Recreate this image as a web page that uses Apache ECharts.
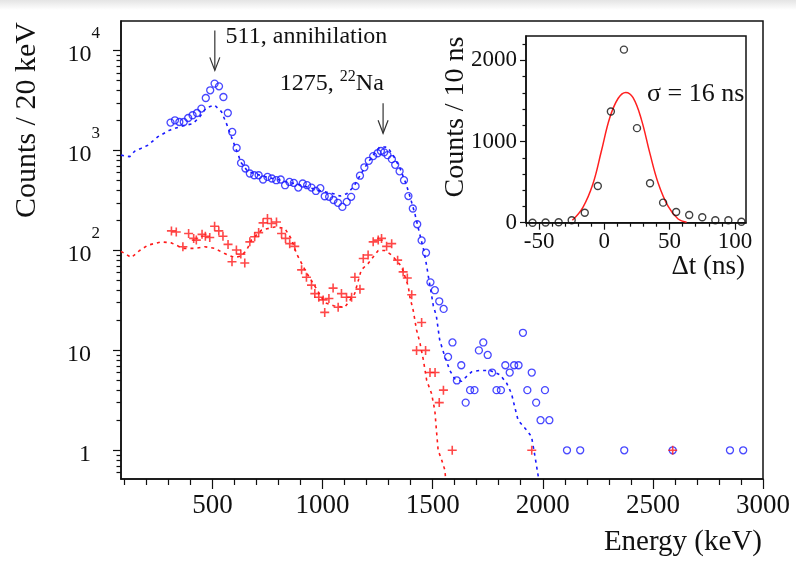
<!DOCTYPE html>
<html><head><meta charset="utf-8">
<script src="https://cdn.jsdelivr.net/npm/echarts@6/dist/echarts.min.js"></script>
<style>html,body{margin:0;padding:0;background:#fff}#c{width:796px;height:562px}</style>
</head><body><div id="c"></div>
<script>
// ---------- DATA ----------
const blueCircles = [[310,1905],[330,2009],[350,1932],[370,1932],[390,2118],[410,2255],[430,2377],[450,2630],[470,3357],[490,4009],[510,4677],[530,4395],[550,3436],[570,2377],[590,1535],[610,1062],[630,752],[650,661],[670,589],[690,566],[710,566],[730,513],[750,545],[770,525],[790,505],[810,513],[830,450],[850,485],[870,474],[890,426],[910,468],[930,450],[950,426],[970,394],[990,420],[1010,349],[1030,344],[1050,320],[1070,300],[1090,273],[1110,306],[1130,344],[1150,440],[1170,560],[1190,680],[1210,790],[1230,880],[1250,940],[1265,990],[1280,960],[1295,900],[1315,820],[1330,720],[1350,620],[1370,505],[1390,350],[1410,263],[1430,183],[1450,126],[1470,95],[1490,48],[1510,40],[1530,31],[1550,26],[1570,8.6],[1590,12],[1610,5.0],[1630,7.1],[1650,3.0],[1670,4.0],[1690,4.0],[1710,10],[1730,12],[1750,9],[1770,6],[1790,4],[1810,4],[1830,7.1],[1850,6],[1870,7.1],[1890,7.1],[1910,15],[1930,4],[1950,6],[1970,3],[1990,2],[2010,4],[2030,2],[2110,1],[2170,1],[2370,1],[2590,1],[2850,1],[2910,1]];
const redPlus = [[314,157],[336,153],[366,109],[392,148],[415,132],[427,127],[453,145],[468,139],[488,135],[510,175],[529,157],[548,139],[571,115],[589,77],[609,101],[629,92],[647,75],[670,122],[692,137],[710,151],[730,189],[750,209],[768,186],[791,193],[814,148],[832,132],[851,117],[874,110],[905,64],[927,54],[950,45],[965,37],[983,34],[1003,32],[1010,24],[1029,33],[1048,42],[1071,27],[1086,37],[1109,34],[1132,34],[1147,54],[1170,41],[1185,83],[1207,90],[1230,122],[1253,127],[1268,132],[1291,110],[1314,117],[1341,80],[1366,61],[1385,53],[1405,36],[1427,10],[1450,19],[1468,10],[1488,6],[1511,6],[1530,3],[1549,4],[1589,1],[1950,1],[2590,1]];
const blueModel = [[85,900],[105,880],[125,870],[147,985],[175,1050],[207,1130],[253,1377],[306,1600],[359,1750],[412,1860],[442,2170],[473,2690],[510,2850],[541,2450],[564,1860],[590,1300],[610,1000],[630,760],[660,620],[700,580],[750,540],[800,510],[850,480],[900,450],[950,420],[1000,390],[1050,370],[1080,350],[1110,370],[1140,430],[1170,560],[1200,720],[1230,900],[1260,1090],[1295,1080],[1320,900],[1350,680],[1380,460],[1400,330],[1420,230],[1440,150],[1460,100],[1473,70],[1480,56],[1495,36],[1503,28],[1517,22],[1532,12.7],[1555,8.7],[1578,6.3],[1600,5.2],[1631,4.9],[1677,6.1],[1715,6.3],[1760,6.3],[1806,5.7],[1836,4.7],[1858,3.7],[1873,2.7],[1888,2.0],[1926,1.6],[1949,1.37],[1965,0.86],[1980,0.54]];
const redModel = [[85,98],[132,85],[170,100],[207,113],[268,122],[314,119],[366,105],[420,105],[465,109],[510,105],[556,93],[600,85],[630,88],[655,100],[677,127],[723,160],[783,172],[829,166],[859,130],[882,93],[927,60],[965,44],[1010,30],[1050,28],[1101,27],[1146,37],[1176,64],[1207,74],[1253,100],[1283,100],[1314,90],[1359,69],[1389,44],[1397,34],[1412,25],[1427,16],[1442,12],[1458,8],[1473,5],[1495,3.7],[1510,2.5],[1517,1.6],[1525,1.0],[1541,0.8],[1555,0.64],[1560,0.5]];
const insetPoints = [[-55,0],[-45,3],[-35,5],[-25,30],[-15,123],[-5,453],[5,1370],[15,2132],[25,1165],[35,486],[45,247],[55,132],[65,95],[75,67],[85,30],[95,30],[105,12]];
const insetFit = [[-24.5,30],[-16.4,190],[-8.7,480],[-2.3,880],[4.1,1290],[10.5,1530],[16.4,1605],[22,1540],[28.4,1270],[34.8,860],[41.2,490],[48.9,200],[56.5,45],[63,5]];
// tick / label values
const xMajor = [500,1000,1500,2000,2500,3000];
const xMinor = [100,200,300,400,600,700,800,900,1100,1200,1300,1400,1600,1700,1800,1900,2100,2200,2300,2400,2600,2700,2800,2900];
const yMajor = [1,10,100,1000,10000];
const yMinor = [0.6,0.7,0.8,0.9,2,3,4,5,6,7,8,9,20,30,40,50,60,70,80,90,200,300,400,500,600,700,800,900,2000,3000,4000,5000,6000,7000,8000,9000];
const insetXMajor = [-50,0,50,100];
const insetXMinor = [-60,-40,-30,-20,-10,10,20,30,40,60,70,80,90];
const insetYMajor = [0,1000,2000];
const insetYMinor = [200,400,600,800,1200,1400,1600,1800,2200];
// annotations (data coordinates)
const arrows = [{e:511, from:15950, to:6350}, {e:1275, from:2972, to:1489}];
const notes = [{e:560, v:13900, parts:[['n','511, annihilation']]}, {e:806, v:4656, parts:[['n','1275, '],['s','22'],['n','Na']]}];

// ---------- CHART ----------
const FONT = "'Liberation Serif','DejaVu Serif',serif";
const INK = '#111';
const chart = echarts.init(document.getElementById('c'), null, {renderer:'canvas'});
const lineSty = {color: INK, width: 1.5};
const plain = v => String(Math.round(v));
function minorAxis(base, vals, len){
  return Object.assign({}, base, {
    axisLine:{show:false, onZero:false}, axisLabel:{show:false}, splitLine:{show:false},
    axisTick:{show:true, customValues: vals, length: len, inside:false, lineStyle:{color:INK, width:1.2}}
  });
}
const xMainBase = {type:'value', gridIndex:0, min:85, max:3000, position:'bottom'};
const yMainBase = {type:'log', logBase:10, gridIndex:0, min:0.516, max:19800, position:'left'};
const xInBase = {type:'value', gridIndex:1, min:-60, max:108.5, position:'bottom'};
const yInBase = {type:'value', gridIndex:1, min:0, max:2300, position:'left'};

const option = {
  animation:false,
  backgroundColor:'#fff',
  grid:[
    {left:121, top:21, width:642, height:458, show:true, borderColor:INK, borderWidth:1.5, backgroundColor:'transparent', containLabel:false},
    {left:526, top:36, width:220, height:186.7, show:true, borderColor:INK, borderWidth:1.5, backgroundColor:'transparent', containLabel:false}
  ],
  xAxis:[
    Object.assign({}, xMainBase, {
      axisLine:{show:true, onZero:false, lineStyle:lineSty}, splitLine:{show:false},
      axisTick:{show:true, customValues:xMajor, length:10, lineStyle:{color:INK, width:1.2}},
      axisLabel:{customValues:xMajor, formatter:plain, fontSize:27, fontFamily:FONT, color:INK, margin:13}
    }),
    minorAxis(xMainBase, xMinor, 6),
    Object.assign({}, xInBase, {
      axisLine:{show:true, onZero:false, lineStyle:lineSty}, splitLine:{show:false},
      axisTick:{show:true, customValues:insetXMajor, length:7, lineStyle:{color:INK, width:1.2}},
      axisLabel:{customValues:insetXMajor, formatter:plain, fontSize:23, fontFamily:FONT, color:INK, margin:8}
    }),
    minorAxis(xInBase, insetXMinor, 4)
  ],
  yAxis:[
    Object.assign({}, yMainBase, {
      axisLine:{show:true, onZero:false, lineStyle:lineSty}, splitLine:{show:false},
      axisTick:{show:true, customValues:yMajor, length:8, lineStyle:{color:INK, width:1.2}},
      axisLabel:{customValues:yMajor, margin:21, color:INK, padding:[9,0,0,0],
        formatter: function(v){
          const e = Math.round(Math.log10(v));
          if (e === 0) return '{b|1}{sp| }';
          if (e === 1) return '{b|10}{sp| }';
          return '{b|10}{s|' + e + '}';
        },
        rich:{
          b:{fontSize:24, fontFamily:FONT, color:INK, lineHeight:60},
          s:{fontSize:17, fontFamily:FONT, color:INK, lineHeight:16, verticalAlign:'top'},
          sp:{fontSize:17, fontFamily:FONT, width:9, lineHeight:16}
        }
      }
    }),
    minorAxis(yMainBase, yMinor, 4.5),
    Object.assign({}, yInBase, {
      axisLine:{show:true, onZero:false, lineStyle:lineSty}, splitLine:{show:false},
      axisTick:{show:true, customValues:insetYMajor, length:6, lineStyle:{color:INK, width:1.2}},
      axisLabel:{customValues:insetYMajor, formatter:plain, fontSize:23, fontFamily:FONT, color:INK, margin:9}
    }),
    minorAxis(yInBase, insetYMinor, 3.5)
  ],
  series:[
    {type:'line', xAxisIndex:0, yAxisIndex:0, data:blueModel, symbol:'none', clip:true,
     lineStyle:{color:'#1a1aff', width:1.6, type:[3,4]}, z:2},
    {type:'line', xAxisIndex:0, yAxisIndex:0, data:redModel, symbol:'none', clip:true,
     lineStyle:{color:'#ff1a1a', width:1.6, type:[3,4]}, z:2},
    {type:'scatter', xAxisIndex:0, yAxisIndex:0, data:blueCircles, symbol:'circle', symbolSize:7,
     itemStyle:{color:'rgba(0,0,0,0)', borderColor:'#1a1aff', borderWidth:1.3}, z:3},
    {type:'scatter', xAxisIndex:0, yAxisIndex:0, data:redPlus, symbol:'path://M0,5L10,5M5,0L5,10', symbolSize:9,
     itemStyle:{color:'rgba(0,0,0,0)', borderColor:'#ff1a1a', borderWidth:1.6}, z:4},
    {type:'line', xAxisIndex:2, yAxisIndex:2, data:insetFit, symbol:'none', smooth:0.4,
     lineStyle:{color:'#ff2020', width:1.5}, z:2},
    {type:'scatter', xAxisIndex:2, yAxisIndex:2, data:insetPoints, symbol:'circle', symbolSize:7,
     itemStyle:{color:'rgba(0,0,0,0)', borderColor:'#111', borderWidth:1.4}, z:3}
  ]
};
chart.setOption(option);

// ---------- TEXT & ANNOTATIONS ----------
const g = [];
g.push({type:'rect', shape:{x:0,y:0,width:796,height:10}, silent:true, z:-1,
  style:{fill:new echarts.graphic.LinearGradient(0,0,0,1,[{offset:0,color:'#e4e4e4'},{offset:1,color:'#ffffff'}])}});
g.push({type:'text', x:762, y:542, style:{text:'Energy (keV)', font:'29px '+FONT, fill:INK, textAlign:'right', textVerticalAlign:'middle'}});
g.push({type:'text', x:27, y:120, rotation:Math.PI/2, style:{text:'Counts / 20 keV', font:'30px '+FONT, fill:INK, textAlign:'center', textVerticalAlign:'middle'}});
g.push({type:'text', x:456, y:117, rotation:Math.PI/2, style:{text:'Counts / 10 ns', font:'28px '+FONT, fill:INK, textAlign:'center', textVerticalAlign:'middle'}});
g.push({type:'text', x:745, y:267, style:{text:'\u0394t (ns)', font:'27px '+FONT, fill:INK, textAlign:'right', textVerticalAlign:'middle'}});
g.push({type:'text', x:647, y:94, style:{text:'\u03c3 = 16 ns', font:'26px '+FONT, fill:INK, textAlign:'left', textVerticalAlign:'middle'}});
arrows.forEach(a => {
  const p0 = chart.convertToPixel({xAxisIndex:0, yAxisIndex:0}, [a.e, a.from]);
  const p1 = chart.convertToPixel({xAxisIndex:0, yAxisIndex:0}, [a.e, a.to]);
  g.push({type:'polyline', shape:{points:[p0, p1]}, style:{stroke:'#333', lineWidth:1.2, fill:null}});
  g.push({type:'polyline', shape:{points:[[p1[0]-5, p1[1]-13], p1, [p1[0]+5, p1[1]-13]]}, style:{stroke:'#333', lineWidth:1.2, fill:null}});
});
notes.forEach(n => {
  const p = chart.convertToPixel({xAxisIndex:0, yAxisIndex:0}, [n.e, n.v]);
  const txt = n.parts.map(pt => '{' + pt[0] + '|' + pt[1] + '}').join('');
  g.push({type:'text', x:p[0], y:p[1], style:{text:txt, textAlign:'left', textVerticalAlign:'middle',
    rich:{ n:{font:'24px '+FONT, fill:INK, lineHeight:30}, s:{font:'16px '+FONT, fill:INK, lineHeight:14, verticalAlign:'top'} }}});
});
chart.setOption({graphic: g});
</script>
</body></html>
